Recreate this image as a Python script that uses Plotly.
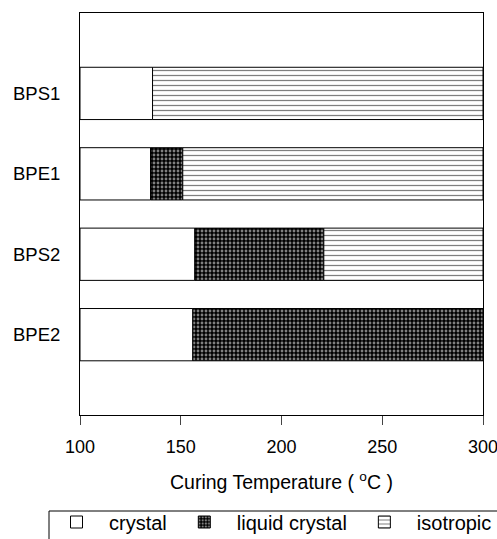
import plotly.graph_objects as go

samples = ["BPS1", "BPE1", "BPS2", "BPE2"]
t_start = [100, 100, 100, 100]
crystal_to = [136, 135, 157, 156]
lc_to = [136, 151, 221, 300]
iso_to = [300, 300, 300, 300]

x_ticks = [100, 150, 200, 250, 300]

def seg(a, b):
    base = [s if e > s else None for s, e in zip(a, b)]
    length = [e - s if e > s else None for s, e in zip(a, b)]
    return base, length

fig = go.Figure()
font_family = "Arial, Liberation Sans, sans-serif"

b, l = seg(t_start, crystal_to)
fig.add_trace(go.Bar(y=samples, x=l, base=b, orientation="h", name="crystal",
                     width=0.65,
                     marker=dict(color="white", line=dict(color="black", width=1))))
b, l = seg(crystal_to, lc_to)
fig.add_trace(go.Bar(y=samples, x=l, base=b, orientation="h", name="liquid crystal",
                     width=0.65,
                     marker=dict(color="black", line=dict(color="black", width=1),
                                 pattern=dict(shape=".", fgcolor="white", bgcolor="black",
                                              size=4, solidity=0.4))))
b, l = seg(lc_to, iso_to)
fig.add_trace(go.Bar(y=samples, x=l, base=b, orientation="h", name="isotropic",
                     width=0.65,
                     marker=dict(color="white", line=dict(color="black", width=1),
                                 pattern=dict(shape="-", fgcolor="black", bgcolor="white",
                                              size=5, solidity=0.25))))

PW, PH = 403, 402

fig.update_layout(
    width=497, height=539,
    margin=dict(l=80, r=14, t=13, b=124, autoexpand=False),
    barmode="overlay",
    plot_bgcolor="white", paper_bgcolor="white",
    font=dict(family=font_family, size=18.5, color="black"),
    showlegend=True,
    legend=dict(orientation="h", xref="paper", yref="paper",
                x=(44 - 80) / PW, y=(415 - 522) / PH, xanchor="left", yanchor="middle",
                bgcolor="rgba(0,0,0,0)", borderwidth=0, font=dict(size=20),
                traceorder="normal", itemwidth=55),
    xaxis=dict(range=[100, 300], tickvals=x_ticks, ticks="outside", ticklen=9,
               linecolor="black", linewidth=1, mirror=True, showgrid=False,
               zeroline=False, tickfont=dict(size=18), ticklabelstandoff=6,
               ticklabeloverflow="allow"),
    yaxis=dict(type="category", categoryorder="array", categoryarray=samples,
               range=[3.999, -1], ticks="", linecolor="black", linewidth=1, mirror=True,
               showgrid=False, zeroline=False, tickfont=dict(size=18.5), ticklabelstandoff=15),
    annotations=[dict(text="Curing Temperature ( <sup>o</sup>C )", xref="paper", yref="paper",
                      x=0.5, y=-0.164, xanchor="center", yanchor="middle",
                      showarrow=False, font=dict(size=19.5))],
    shapes=[dict(type="rect", xref="paper", yref="paper",
                 x0=(49 - 80) / PW, x1=(499 - 80) / PW,
                 y0=(415 - 545) / PH, y1=(415 - 511) / PH,
                 line=dict(color="black", width=1), fillcolor="rgba(0,0,0,0)",
                 layer="above")],
)

fig.write_html("out.html")
